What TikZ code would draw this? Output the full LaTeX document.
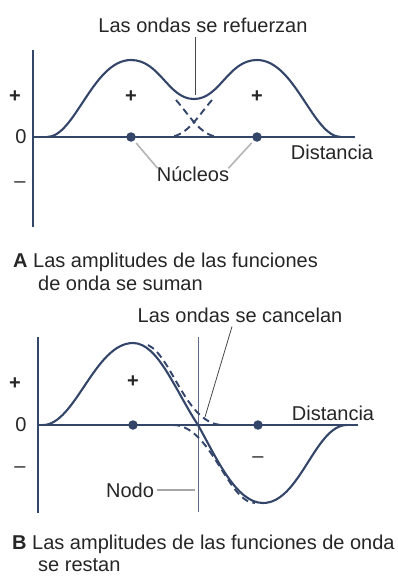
\documentclass[tikz,border=0pt]{standalone}
\usepackage{fontspec}
\setmainfont{Liberation Sans}
\definecolor{curve}{HTML}{34456A}
\definecolor{ink}{HTML}{262626}
\definecolor{leadgray}{HTML}{B5B5B5}
\begin{document}
\begin{tikzpicture}[x=1pt,y=-1pt,
  axisline/.style={draw=curve, line width=2.2pt},
  vaxisline/.style={draw=curve, line width=2.8pt},
  wave/.style={draw=curve, line width=2.1pt},
  ghost/.style={draw=curve, line width=1.9pt, dash pattern=on 7pt off 4.5pt},
  dotn/.style={circle, fill=curve, inner sep=0pt, minimum size=9.5pt},
  lbl/.style={text=ink, font=\fontsize{20}{24}\selectfont, inner sep=0pt},
  sgn/.style={text=ink, font=\fontsize{20}{24}\selectfont\bfseries, inner sep=0pt},
  leader/.style={draw=ink!85, line width=0.8pt},
  softleader/.style={draw=leadgray, line width=1.6pt},
  nodeline/.style={draw=curve!80, line width=1pt}]
\fill[white] (0,0) rectangle (398,578);
\useasboundingbox (0,0) rectangle (398,578);

% ---------------- Panel A ----------------
\coordinate (yTopA) at (33,50);
\coordinate (yBotA) at (33,227);
\coordinate (oA) at (33,137);
\coordinate (xEndA) at (355,137);
\draw[vaxisline] (yTopA) -- (yBotA);
\draw[axisline] (oA) -- (xEndA);

\draw[wave] (47,137) .. controls (75,137) and (93,60) .. (131,60)
  .. controls (160,60) and (168,99) .. (194,99)
  .. controls (220,99) and (228,60) .. (257,60)
  .. controls (295,60) and (313,137) .. (341,137);
\draw[ghost] (176,100) .. controls (190,116) and (200,135) .. (218,137);
\draw[ghost] (212,100) .. controls (198,116) and (188,135) .. (170,137);

\node[dotn] (nA1) at (131,137) {};
\node[dotn] (nA2) at (257,137) {};

\node[lbl] (tA) at (203,25) {Las ondas se refuerzan};
\coordinate (dipA) at (195,95);
\draw[leader] ([yshift=-4pt]tA.south -| dipA) -- (dipA);

\node[sgn] (pA) at (15,97) {+};
\node[lbl] (zA) at (21,137) {0};
\node[lbl] (mA) at (20,185) {–};
\node[sgn] (pA1) at (131,97) {+};
\node[sgn] (pA2) at (257,97) {+};
\node[lbl] (dA) at (332,152) {Distancia};
\node[lbl] (nuc) at (193,174) {Núcleos};
\draw[softleader, shorten <=3pt] (nA1) -- ([xshift=1pt,yshift=-2pt]nuc.north west);
\draw[softleader, shorten <=3pt] (nA2) -- ([xshift=-1pt,yshift=-2pt]nuc.north east);

\node[lbl, anchor=base west] (capA1) at (13,267) {\textbf{A} Las amplitudes de las funciones};
\node[lbl, anchor=base west] (capA2) at (38,290) {de onda se suman};

% ---------------- Panel B ----------------
\coordinate (yTopB) at (38,337);
\coordinate (yBotB) at (38,513);
\coordinate (oB) at (38,425);
\coordinate (xEndB) at (358,425);
\draw[vaxisline] (yTopB) -- (yBotB);
\draw[axisline] (oB) -- (xEndB);

\coordinate (nlTop) at (198,337);
\coordinate (nlBot) at (198,512);
\draw[nodeline] (nlTop) -- (nlBot);

\draw[wave] (43,425) .. controls (75,425) and (95,343) .. (133,343)
  .. controls (158,343) and (175,390) .. (198,425)
  .. controls (216,457) and (236,503) .. (263,503)
  .. controls (300,503) and (315,425) .. (347,425);
\draw[ghost] (148,345) .. controls (172,356) and (186,425) .. (223,425);
\draw[ghost] (173,425) .. controls (211,425) and (228,503) .. (255,503);

\node[dotn] (nB1) at (133,425) {};
\node[dotn] (nB2) at (258,425) {};

\node[lbl] (tB) at (240,315) {Las ondas se cancelan};
\coordinate (cancB) at (205,417);
\draw[leader] ([xshift=-8pt,yshift=-4pt]tB.south) -- (cancB);

\node[sgn] (pB) at (15,384) {+};
\node[lbl] (zB) at (21,425) {0};
\node[lbl] (mB) at (20,470) {–};
\node[sgn] (pB1) at (133,382) {+};
\node[lbl] (mB1) at (258,460) {–};
\node[lbl] (dB) at (333,413) {Distancia};
\node[lbl] (nodo) at (130,490) {Nodo};
\coordinate (nodoEnd) at (195,490);
\draw[draw=gray!70, line width=1.2pt, shorten <=3pt] (nodo.east) -- (nodoEnd);

\node[lbl, anchor=base west] (capB1) at (12,549) {\textbf{B} Las amplitudes de las funciones de onda};
\node[lbl, anchor=base west] (capB2) at (38,571) {se restan};
\end{tikzpicture}
\end{document}
